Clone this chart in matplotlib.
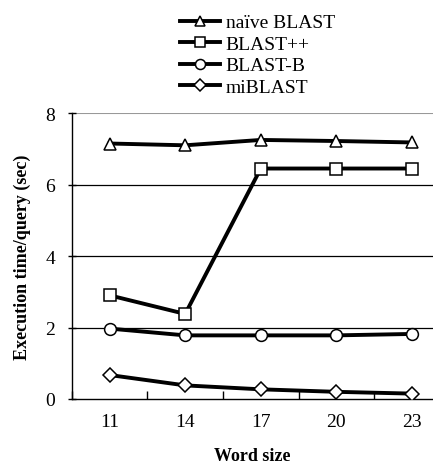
import matplotlib
matplotlib.use('Agg')
import matplotlib.pyplot as plt

plt.rcParams['font.family'] = ['Liberation Serif', 'DejaVu Serif']

# data
word_sizes = ['11', '14', '17', '20', '23']
naive_blast = [7.15, 7.1, 7.25, 7.22, 7.18]
blast_pp = [2.9, 2.38, 6.45, 6.45, 6.45]
blast_b = [1.97, 1.78, 1.78, 1.78, 1.82]
miblast = [0.67, 0.38, 0.27, 0.2, 0.15]

series = [
    ('naïve BLAST', naive_blast, '^'),
    ('BLAST++', blast_pp, 's'),
    ('BLAST-B', blast_b, 'o'),
    ('miBLAST', miblast, 'D'),
]

fig = plt.figure(figsize=(4.33, 4.64), dpi=100)
ax = fig.add_axes([0.166, 0.138, 0.834, 0.616])

x = range(len(word_sizes))
handles = []
for name, vals, mk in series:
    ms = 7 if mk == 'D' else 8.5
    h, = ax.plot(x, vals, color='black', lw=2.8, marker=mk, ms=ms,
                 mfc='white', mec='black', mew=1.1, label=name, zorder=3)
    handles.append(h)

ax.set_ylim(0, 8)
ax.set_xlim(-0.5, 4.28)
ax.set_yticks([0, 2, 4, 6, 8])
ax.set_xticks([-0.5, 0.5, 1.5, 2.5, 3.5])
ax.set_xticklabels([])
ax.set_xticks(list(x), minor=True)
ax.set_xticklabels(word_sizes, minor=True)
ax.tick_params(axis='x', which='minor', length=0, labelsize=14, pad=10)
ax.tick_params(axis='x', which='major', length=6, direction='in', width=1)
ax.tick_params(axis='y', length=6, direction='inout', width=1, labelsize=14, pad=9)
for yv in [2, 4, 6]:
    ax.axhline(yv, color='black', lw=0.9, zorder=1)
ax.axhline(8, color='#999999', lw=1.5, zorder=1)

ax.spines['top'].set_visible(False)
ax.spines['right'].set_visible(False)
ax.spines['left'].set_linewidth(1)
ax.spines['bottom'].set_linewidth(1)

ax.set_xlabel('Word size', fontsize=13, fontweight='bold', labelpad=12)
ax.set_ylabel('Execution time/query (sec)', fontsize=13, fontweight='bold', labelpad=10)

# legend at the top, small markers on the handles
fig.legend(handles=handles, loc='upper left', bbox_to_anchor=(0.398, 0.985),
           frameon=False, fontsize=14, handlelength=2.05, handletextpad=0.3,
           labelspacing=0.2, borderaxespad=0, markerscale=0.85)

fig.savefig('out.png', dpi=100)
